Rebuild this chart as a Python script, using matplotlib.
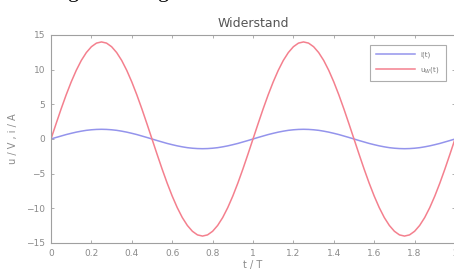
import numpy as np
import matplotlib
matplotlib.use("Agg")
import matplotlib.pyplot as plt

# t / T in steps of 0.025
t = [k * 0.025 for k in range(81)]
u_half = [0, 2.19, 4.33, 6.36, 8.23, 9.90, 11.33, 12.47, 13.31, 13.83, 14.0,
          13.83, 13.31, 12.47, 11.33, 9.90, 8.23, 6.36, 4.33, 2.19]
u_w = u_half + [-v for v in u_half] + u_half + [-v for v in u_half] + [0]
i_half = [0, 0.22, 0.43, 0.64, 0.82, 0.99, 1.13, 1.25, 1.33, 1.38, 1.4,
          1.38, 1.33, 1.25, 1.13, 0.99, 0.82, 0.64, 0.43, 0.22]
i_t = i_half + [-v for v in i_half] + i_half + [-v for v in i_half] + [0]

xticks = [0, 0.2, 0.4, 0.6, 0.8, 1, 1.2, 1.4, 1.6, 1.8, 2]
xlabels = ["0", "0.2", "0.4", "0.6", "0.8", "1", "1.2", "1.4", "1.6", "1.8", "2"]
yticks = [-15, -10, -5, 0, 5, 10, 15]

W, H = 454, 280
fig = plt.figure(figsize=(W / 100, H / 100), dpi=100)
ax = fig.add_axes([51 / W, 1 - 243 / H, 404 / W, 208 / H])

ax.plot(t, i_t, color="#9494ec", lw=1.1, label="i(t)")
ax.plot(t, u_w, color="#f4808e", lw=1.1, label="u$_W$(t)")

ax.set_xlim(0, 2)
ax.set_ylim(-15, 15)
ax.set_xticks(xticks)
ax.set_xticklabels(xlabels)
ax.set_yticks(yticks)
gray = "#8a8a8a"
for s in ax.spines.values():
    s.set_color("#a0a0a0")
    s.set_linewidth(0.8)
ax.tick_params(direction="in", length=2.5, width=0.6, colors="#a0a0a0",
               labelcolor=gray, labelsize=6.5, top=True, right=True, pad=4)

ax.set_title("Widerstand", fontsize=9, color="#555555", pad=6)
ax.set_xlabel("t / T", fontsize=7, color=gray, labelpad=2)
ax.set_ylabel("u / V , i / A", fontsize=7, color=gray, labelpad=6)

leg = ax.legend(loc="upper right", bbox_to_anchor=(398 / 404, 1 - 7 / 208),
                fontsize=5, frameon=True, fancybox=False, handlelength=5.5,
                borderpad=0.9, labelspacing=1.0)
leg.get_frame().set_edgecolor("#999999")
leg.get_frame().set_linewidth(0.8)
for txt in leg.get_texts():
    txt.set_color("#777777")

# cut-off text of the surrounding document
fig.text(68 / W, 1 + 3 / H, "g", family="Liberation Serif", fontsize=16, va="baseline")
fig.text(158 / W, 1 + 3 / H, "g", family="Liberation Serif", fontsize=16, va="baseline")

fig.savefig("out.png", dpi=100)
